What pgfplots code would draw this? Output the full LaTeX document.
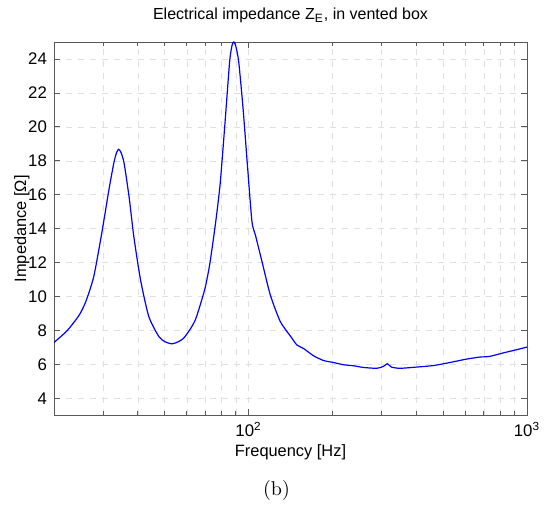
\documentclass[border=0pt]{standalone}
\usepackage{pgfplots}
\pgfplotsset{compat=1.18}
\usepackage{fontspec}
\newfontfamily\arial{Liberation Sans}
\begin{document}
\begin{tikzpicture}
\begin{axis}[
  xmode=log,
  scale only axis,
  width=236.5pt, height=186.75pt,
  xmin=20, xmax=1000, ymin=3, ymax=25,
  xtick={100,1000},
  xticklabels={10\textsuperscript{2},10\textsuperscript{3}},
  minor xtick={20,30,40,50,60,70,80,90,200,300,400,500,600,700,800,900},
  ytick={4,6,...,24},
  /pgf/number format/assume math mode=true,
  tick label style={font=\arial\fontsize{8.4}{10}\selectfont, black},
  label style={font=\arial\fontsize{8.2}{10}\selectfont},
  title style={font=\arial\fontsize{8}{10}\selectfont, yshift=0pt},
  title={Electrical impedance Z\textsubscript{E}, in vented box},
  xlabel={Frequency [Hz]},
  ylabel={Impedance [Ω]},
  xlabel style={yshift=3pt},
  ylabel style={yshift=-7.5pt},
  axis line style={draw=black!65},
  tick style={draw=black!65, line width=0.4pt},
  tick align=inside,
  major tick length=3pt, minor tick length=2pt,
  xmajorgrids, xminorgrids, ymajorgrids,
  grid style={dashed, draw=black!12, line width=0.3pt},
  minor grid style={dashed, draw=black!12, line width=0.3pt},
  clip=true,
]
\addplot[blue, line width=0.6pt, smooth, tension=0.4] coordinates {
(20,7.30) (22.3,8.0) (24.6,8.9) (26.0,9.7) (27.8,11.2) (29.8,13.9)
(31.5,16.3) (32.8,17.87) (33.5,18.45) (34.1,18.68) (34.8,18.5) (35.7,17.87)
(37.2,15.9) (38.7,13.55) (40.9,11.0) (43.8,8.83) (47.6,7.65) (50,7.35)
(53.1,7.22) (56,7.35) (58.5,7.56) (61.8,8.1) (64.4,8.64) (67,9.5)
(70.0,10.6) (72.5,11.9) (74.9,13.5) (77,15.0) (79.2,16.8) (82.5,20.5)
(85.5,23.86) (87.2,24.8) (88.4,25.0) (89.8,24.8) (92.1,23.86) (95.5,21.11)
(99.2,17.58) (102.8,14.43) (105.7,13.65) (111.7,12.07) (119.6,10.11)
(129.9,8.54) (141,7.70) (149,7.16) (157.4,6.95) (171,6.52) (185.7,6.24)
(201.9,6.12) (219,5.99) (237.9,5.93) (258.3,5.83) (288.8,5.78) (304.9,5.89)
(315,6.05) (326,5.85) (349.9,5.78) (400,5.85) (460.6,5.94) (527.8,6.12)
(606,6.32) (676,6.44) (734,6.48) (819,6.68) (915,6.87) (1000,7.03)
};
\end{axis}
\node at ([xshift=-7pt,yshift=-37.5pt]current axis.south) {(b)};
\pgfresetboundingbox
\path[use as bounding box] ([xshift=-27pt,yshift=-46pt]current axis.south west) rectangle ([xshift=10.5pt,yshift=21pt]current axis.north east);
\end{tikzpicture}
\end{document}
